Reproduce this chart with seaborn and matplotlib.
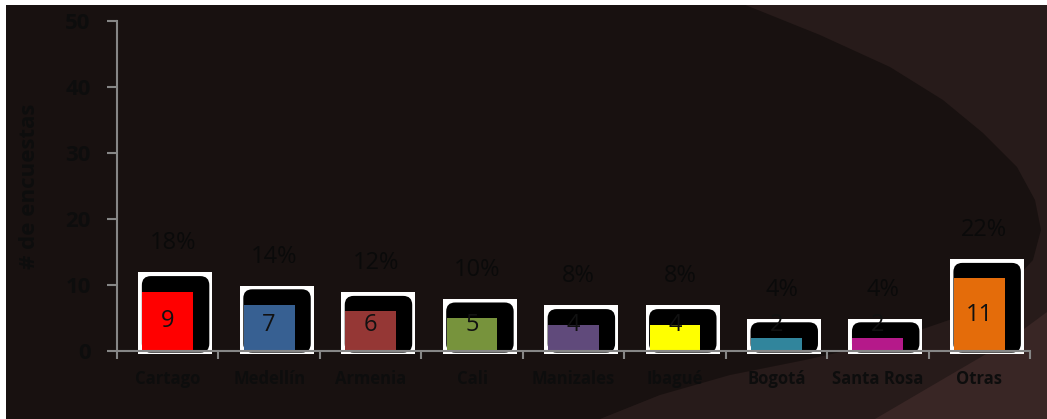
import matplotlib
matplotlib.use("Agg")
import matplotlib.pyplot as plt
from matplotlib.patches import Rectangle, FancyBboxPatch, Polygon
import seaborn as sns
import pandas as pd

# data
cities = ["Cartago", "Medellín", "Armenia", "Cali", "Manizales", "Ibagué",
          "Bogotá", "Santa Rosa", "Otras"]
counts = [9, 7, 6, 5, 4, 4, 2, 2, 11]
bar_colors = ["#ff0000", "#376092", "#953735", "#77933c", "#604a7b",
              "#ffff00", "#31859c", "#b5198a", "#e46c0a"]

df = pd.DataFrame({"ciudad": cities, "encuestas": counts})
total = sum(counts)

sns.set_theme(style="white")
plt.rcParams["font.family"] = ["Open Sans", "DejaVu Sans"]

fig = plt.figure(figsize=(10.47, 4.19), dpi=100)
fig.patch.set_facecolor("white")

# slide-like dark background with curved lighter bands (pixel coords, y down)
W, H = 1047, 419
bg = fig.add_axes([6 / W, 0, 1 - 6 / W, (H - 5) / H], zorder=-10)
bg.set_xlim(6, W)
bg.set_ylim(H, 5)
bg.axis("off")
bg.add_patch(Rectangle((0, 0), W, H, facecolor="#271b1a", edgecolor="none"))
dark_edge = [(0, 0), (733, 0), (820, 35), (890, 67), (943, 100), (983, 133),
             (1017, 167), (1035, 200), (1041, 230), (1033, 260), (1005, 290),
             (955, 318), (885, 342), (805, 360), (730, 375), (660, 395),
             (600, H), (0, H)]
bg.add_patch(Polygon(dark_edge, closed=True, facecolor="#181110",
                     edgecolor="none"))
light_edge = [(W, 312), (1005, 343), (945, 378), (875, H), (W, H)]
bg.add_patch(Polygon(light_edge, closed=True, facecolor="#392625",
                     edgecolor="none"))

ax = fig.add_axes([117 / W, (H - 351) / H, (1030 - 117) / W, 330 / H])
ax.set_facecolor("none")

sns.barplot(data=df, x="ciudad", y="encuestas", hue="ciudad",
            palette=bar_colors, width=0.5, legend=False, ax=ax,
            saturation=1, linewidth=0, edgecolor="none", zorder=4)

x_unit = (1030 - 117) / len(cities)
y_unit = 330 / 50
for bar, val in zip(ax.patches, counts):
    cx = bar.get_x() + bar.get_width() / 2
    # white frame behind
    ax.add_patch(Rectangle((cx - 0.29, -0.45), 0.73, val + 2.9 + 0.45,
                           facecolor="white", edgecolor="none", zorder=1,
                           clip_on=False))
    # black rounded box
    r = 9 / x_unit
    ax.add_patch(FancyBboxPatch((cx - 0.255, -0.25), 0.665, val + 2.6,
                                boxstyle=f"round,pad=0,rounding_size={r}",
                                mutation_aspect=(x_unit / y_unit),
                                facecolor="black", edgecolor="none", zorder=2,
                                clip_on=False))
    ax.text(cx, max(val / 2, 4.0), f"{val}", ha="center", va="center",
            fontsize=17, color="#111111", zorder=6)
    ax.text(cx + 0.05, val + 7.3, f"{val / total:.0%}", ha="center",
            va="center", fontsize=17, color="#0a0a0a", zorder=6)

ax.set_ylim(0, 50)
ax.set_xlim(-0.5, len(cities) - 0.5)
ax.set_yticks([0, 10, 20, 30, 40, 50])
ax.set_xticks(range(len(cities)))
ax.set_xticks([i - 0.5 for i in range(len(cities) + 1)], minor=True)

for side in ["top", "right"]:
    ax.spines[side].set_visible(False)
for side in ["left", "bottom"]:
    ax.spines[side].set_color("#868686")
    ax.spines[side].set_linewidth(1.5)
    ax.spines[side].set_zorder(5)

ax.tick_params(axis="y", which="major", left=True, length=7, width=1.5,
               color="#868686", pad=12, labelsize=16, labelcolor="#0d0d0d")
ax.tick_params(axis="x", which="major", bottom=False, length=0, pad=14,
               labelsize=12, labelcolor="#0d0d0d")
ax.tick_params(axis="x", which="minor", bottom=True, length=6, width=1.5,
               color="#868686")
for lab in ax.get_yticklabels() + ax.get_xticklabels():
    lab.set_fontweight("bold")

ax.set_xlabel("")
ax.set_ylabel("# de encuestas", fontsize=16, fontweight="bold",
              color="#0d0d0d")
ax.yaxis.set_label_coords(-0.084, 0.5)
ax.grid(False)

fig.savefig("out.png", dpi=100, facecolor=fig.get_facecolor())
